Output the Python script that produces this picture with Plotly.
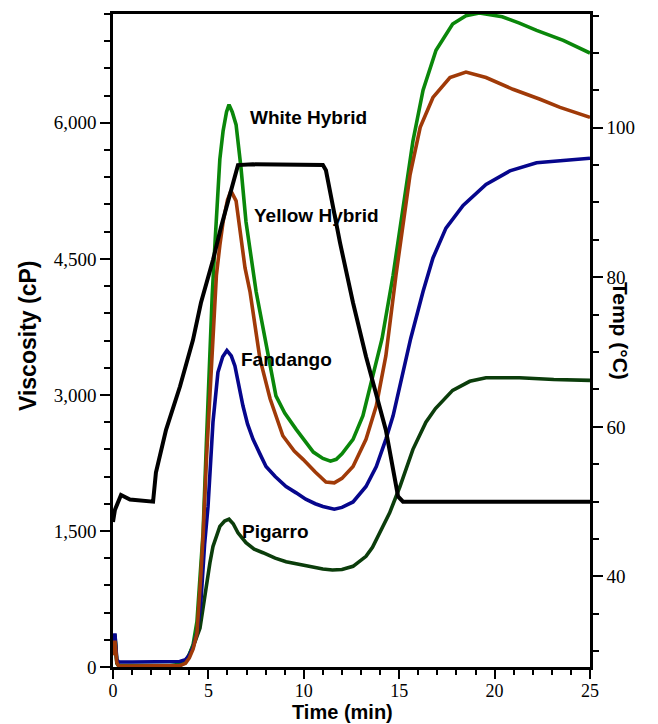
import plotly.graph_objects as go

# ---- data ----
time_white = [0, 0.1, 0.2, 0.3, 1.0, 2.0, 3.0, 3.5, 3.8, 4.0, 4.2, 4.4, 4.6, 4.72, 4.9, 5.08, 5.2, 5.35, 5.6, 5.77, 5.95, 6.08, 6.25, 6.45, 6.71, 6.97, 7.34, 7.5, 7.97, 8.54, 9.0, 9.6, 10.5, 11.0, 11.4, 11.7, 12.0, 12.58, 13.1, 13.6, 14.1, 14.68, 15.2, 15.72, 16.25, 16.93, 17.8, 18.5, 19.2, 20.4, 21.3, 22.2, 23.6, 25.0]
visc_white = [150, 360, 60, 20, 15, 15, 15, 30, 60, 130, 250, 500, 1100, 1480, 2500, 3620, 4100, 4690, 5600, 5910, 6120, 6200, 6120, 5980, 5500, 4910, 4320, 4140, 3620, 2990, 2800, 2620, 2370, 2300, 2270, 2290, 2350, 2510, 2770, 3180, 3620, 4320, 5060, 5800, 6360, 6800, 7090, 7180, 7210, 7170, 7100, 7020, 6910, 6770]

time_yellow = [0, 0.1, 0.2, 0.3, 1.0, 2.0, 3.0, 3.5, 3.8, 4.0, 4.2, 4.4, 4.6, 4.73, 4.9, 5.05, 5.24, 5.42, 5.6, 5.77, 6.0, 6.18, 6.45, 6.71, 6.92, 7.18, 7.5, 7.7, 8.23, 8.9, 9.5, 9.96, 10.6, 11.16, 11.6, 12.0, 12.58, 13.26, 13.8, 14.3, 14.83, 15.2, 15.57, 16.1, 16.77, 17.66, 18.5, 19.55, 20.96, 22.38, 23.43, 25.0]
visc_yellow = [130, 290, 50, 10, 10, 10, 10, 15, 40, 100, 200, 370, 1000, 1480, 2300, 2900, 3620, 4320, 4650, 4910, 5150, 5250, 5140, 4690, 4400, 4140, 3650, 3400, 2960, 2550, 2380, 2290, 2150, 2040, 2030, 2080, 2210, 2510, 2880, 3430, 4320, 4870, 5430, 5950, 6280, 6500, 6560, 6500, 6370, 6260, 6170, 6060]

time_fandango = [0, 0.1, 0.2, 0.3, 1.0, 2.0, 3.0, 3.5, 3.8, 4.0, 4.2, 4.4, 4.6, 4.8, 4.98, 5.24, 5.5, 5.75, 5.97, 6.2, 6.39, 6.6, 6.81, 7.05, 7.34, 7.7, 8.02, 8.5, 9.07, 9.6, 10.1, 10.6, 11.0, 11.6, 12.0, 12.58, 13.26, 13.8, 14.3, 14.68, 15.2, 15.6, 16.25, 16.77, 17.45, 18.35, 19.55, 20.8, 22.2, 23.6, 25.0]
visc_fandango = [180, 370, 80, 55, 55, 55, 55, 60, 80, 130, 220, 380, 700, 1350, 1770, 2700, 3250, 3420, 3490, 3430, 3320, 3100, 2880, 2680, 2510, 2350, 2210, 2100, 1990, 1920, 1850, 1800, 1770, 1740, 1760, 1820, 1990, 2210, 2510, 2770, 3250, 3620, 4140, 4510, 4840, 5090, 5320, 5470, 5560, 5590, 5610]

time_pigarro = [0, 0.1, 0.2, 0.3, 1.0, 2.0, 3.0, 3.5, 3.8, 4.04, 4.3, 4.56, 4.87, 5.08, 5.24, 5.6, 5.85, 6.08, 6.3, 6.55, 6.97, 7.4, 7.86, 8.5, 9.07, 9.8, 10.5, 11.0, 11.5, 12.0, 12.58, 13.26, 13.6, 14.0, 14.5, 15.04, 15.4, 15.72, 16.4, 16.9, 17.8, 18.7, 19.55, 21.3, 23.1, 25.0]
visc_pigarro = [150, 340, 40, 10, 10, 10, 10, 15, 50, 150, 280, 430, 900, 1150, 1330, 1550, 1610, 1630, 1580, 1480, 1370, 1300, 1260, 1200, 1160, 1130, 1100, 1080, 1070, 1075, 1110, 1220, 1320, 1480, 1700, 1990, 2200, 2400, 2700, 2850, 3050, 3150, 3190, 3190, 3170, 3160]

time_temp = [0, 0.1, 0.42, 0.89, 2.1, 2.25, 2.78, 3.51, 4.19, 4.61, 5.24, 5.66, 6.55, 7.34, 11.0, 11.16, 11.9, 12.58, 13.26, 14.3, 14.94, 15.2, 25.0]
temp_c = [47.3, 48.9, 50.9, 50.3, 50.0, 53.9, 59.6, 65.4, 71.6, 76.6, 82.3, 86.7, 95.0, 95.1, 95.0, 94.3, 84.6, 76.6, 69.4, 59.6, 50.7, 50.0, 50.0]

labels = ["White Hybrid", "Yellow Hybrid", "Fandango", "Pigarro"]
label_x = [7.08, 7.29, 6.6, 6.66]
label_y = [6058, 4983, 3389, 1495]

# ---- figure ----
fig = go.Figure()
LW = 3.6
fig.add_trace(go.Scatter(x=time_pigarro, y=visc_pigarro, mode="lines", line=dict(color="#0b3d0b", width=LW), name="Pigarro"))
fig.add_trace(go.Scatter(x=time_white, y=visc_white, mode="lines", line=dict(color="#0a870a", width=LW), name="White Hybrid"))
fig.add_trace(go.Scatter(x=time_fandango, y=visc_fandango, mode="lines", line=dict(color="#06068c", width=LW), name="Fandango"))
fig.add_trace(go.Scatter(x=time_yellow, y=visc_yellow, mode="lines", line=dict(color="#a03a08", width=LW), name="Yellow Hybrid"))
fig.add_trace(go.Scatter(x=time_temp, y=temp_c, mode="lines", line=dict(color="#000000", width=LW + 0.4), name="Temp", yaxis="y2"))

for txt, lx, ly in zip(labels, label_x, label_y):
    fig.add_annotation(x=lx, y=ly, text="<b>" + txt + "</b>", showarrow=False, xanchor="left", yanchor="middle",
                       font=dict(family="Liberation Sans", size=19, color="black"))

tickfont = dict(family="Liberation Serif", size=19, color="black")
xtickfont = dict(family="Liberation Serif", size=18, color="black")

fig.add_annotation(xref="paper", yref="paper", x=(342 - 113) / 477, y=(667 - 712) / 653, text="<b>Time (min)</b>",
                   showarrow=False, font=dict(family="Liberation Sans", size=20, color="black"),
                   xanchor="center", yanchor="middle")
fig.add_annotation(xref="paper", yref="paper", x=(28 - 113) / 477, y=(667 - 336) / 653, text="<b>Viscosity (cP)</b>",
                   showarrow=False, font=dict(family="Liberation Sans", size=23, color="black"), textangle=-90,
                   xanchor="center", yanchor="middle")
fig.add_annotation(xref="paper", yref="paper", x=(621 - 113) / 477, y=(667 - 331) / 653, text="<b>Temp (°C)</b>",
                   showarrow=False, font=dict(family="Liberation Sans", size=21, color="black"), textangle=90,
                   xanchor="center", yanchor="middle")

fig.update_layout(
    width=650, height=716,
    margin=dict(l=105, r=68, t=6, b=57),
    plot_bgcolor="white", paper_bgcolor="white",
    showlegend=False,
    xaxis=dict(range=[0, 25], tick0=0, dtick=5, ticks="outside", ticklen=9, tickwidth=2, tickcolor="black",
               showline=True, linewidth=2.5, linecolor="black", mirror=True, showgrid=False, zeroline=False,
               tickfont=xtickfont, automargin=False, ticklabelstandoff=-3,
               minor=dict(dtick=1, ticks="outside", ticklen=5, tickwidth=2, tickcolor="black")),
    yaxis=dict(range=[0, 7200], tick0=0, dtick=1500, tickformat=",", ticks="outside", ticklen=10, tickwidth=2,
               tickcolor="black", showline=True, linewidth=2.5, linecolor="black", showgrid=False, zeroline=False,
               tickfont=tickfont, automargin=False,
               minor=dict(dtick=300, ticks="outside", ticklen=6, tickwidth=2, tickcolor="black")),
    yaxis2=dict(range=[27.9, 115.2], overlaying="y", side="right", tickvals=[40, 60, 80, 100], ticks="outside",
                ticklen=10, tickwidth=2, tickcolor="black", showline=True, linewidth=2.5, linecolor="black",
                showgrid=False, zeroline=False, tickfont=tickfont, automargin=False,
                minor=dict(tick0=0, dtick=5, ticks="outside", ticklen=6, tickwidth=2, tickcolor="black")),
)

fig.write_html("out.html")
